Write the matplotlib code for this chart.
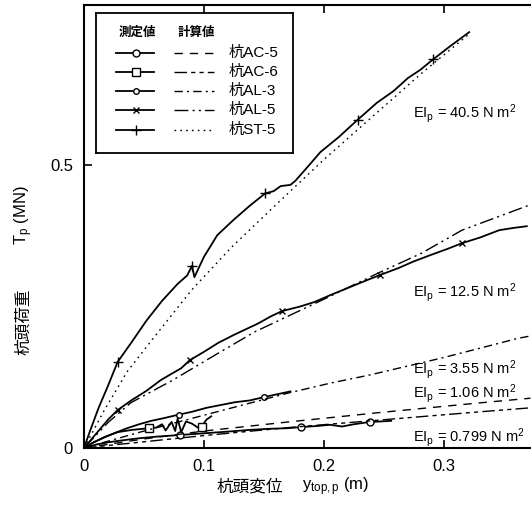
import matplotlib
matplotlib.use("Agg")
import matplotlib.pyplot as plt
from matplotlib.lines import Line2D

plt.rcParams["font.family"] = ["Liberation Sans", "Noto Sans CJK JP"]
plt.rcParams["mathtext.fontset"] = "custom"
plt.rcParams["mathtext.rm"] = "Liberation Sans"
plt.rcParams["mathtext.it"] = "Liberation Sans:italic"

# measured (solid with markers)
ST5_X = [0, 0.005, 0.012, 0.02, 0.028, 0.04, 0.052, 0.065, 0.078, 0.086, 0.09, 0.092, 0.1, 0.111, 0.124, 0.138,
         0.151, 0.158, 0.164, 0.172, 0.176, 0.186, 0.197, 0.212, 0.228, 0.244, 0.258, 0.27, 0.28, 0.291, 0.305, 0.321]
ST5_Y = [0, 0.03, 0.07, 0.11, 0.152, 0.188, 0.225, 0.26, 0.29, 0.305, 0.322, 0.302, 0.338, 0.376, 0.402, 0.428,
         0.45, 0.454, 0.463, 0.465, 0.472, 0.496, 0.523, 0.549, 0.58, 0.61, 0.631, 0.654, 0.668, 0.687, 0.71, 0.735]
AL5_X = [0, 0.01, 0.02, 0.028, 0.04, 0.052, 0.064, 0.072, 0.081, 0.088, 0.1, 0.112, 0.125, 0.135, 0.145, 0.156,
         0.165, 0.18, 0.192, 0.205, 0.22, 0.235, 0.247, 0.262, 0.275, 0.29, 0.303, 0.315, 0.33, 0.346, 0.358, 0.369]
AL5_Y = [0, 0.025, 0.05, 0.067, 0.085, 0.101, 0.12, 0.13, 0.141, 0.155, 0.17, 0.186, 0.2, 0.21, 0.22, 0.233,
         0.242, 0.25, 0.258, 0.27, 0.283, 0.296, 0.306, 0.318, 0.33, 0.342, 0.352, 0.362, 0.372, 0.385, 0.389, 0.392]
AL3_X = [0, 0.008, 0.016, 0.025, 0.036, 0.046, 0.056, 0.067, 0.079, 0.09, 0.102, 0.114, 0.126, 0.138, 0.15, 0.161, 0.172]
AL3_Y = [0, 0.01, 0.018, 0.026, 0.035, 0.042, 0.048, 0.053, 0.059, 0.064, 0.071, 0.076, 0.081, 0.084, 0.09, 0.095, 0.1]
AC6_X = [0, 0.008, 0.018, 0.028, 0.04, 0.054, 0.06, 0.065, 0.068, 0.073, 0.076, 0.078, 0.081, 0.085, 0.09, 0.095,
         0.098, 0.102, 0.106]
AC6_Y = [0, 0.01, 0.02, 0.028, 0.032, 0.035, 0.036, 0.042, 0.031, 0.046, 0.03, 0.052, 0.028, 0.047, 0.043, 0.036,
         0.038, 0.05, 0.056]
AC5_X = [0, 0.01, 0.02, 0.03, 0.045, 0.06, 0.08, 0.1, 0.12, 0.138, 0.155, 0.17, 0.181, 0.195, 0.205, 0.215, 0.225,
         0.238, 0.248, 0.256]
AC5_Y = [0, 0.006, 0.01, 0.013, 0.017, 0.02, 0.023, 0.026, 0.029, 0.032, 0.034, 0.035, 0.037, 0.039, 0.041, 0.038,
         0.042, 0.046, 0.047, 0.048]

# computed
ST5C_X = [0, 0.017, 0.036, 0.06, 0.09, 0.123, 0.16, 0.2, 0.24, 0.28, 0.32]
ST5C_Y = [0, 0.067, 0.135, 0.2, 0.28, 0.355, 0.43, 0.51, 0.585, 0.66, 0.73]
AL5C_X = [0, 0.02, 0.039, 0.074, 0.109, 0.142, 0.2, 0.245, 0.281, 0.315, 0.372]
AL5C_Y = [0, 0.045, 0.08, 0.12, 0.164, 0.205, 0.263, 0.309, 0.344, 0.385, 0.43]
AL3C_X = [0, 0.05, 0.1, 0.17, 0.206, 0.238, 0.3, 0.362, 0.372]
AL3C_Y = [0, 0.03, 0.058, 0.097, 0.115, 0.129, 0.16, 0.194, 0.198]
AC5C_X = [0, 0.05, 0.1, 0.17, 0.248, 0.331, 0.372]
AC5C_Y = [0, 0.016, 0.03, 0.046, 0.063, 0.08, 0.088]
AC6C_X = [0, 0.1, 0.17, 0.25, 0.33, 0.372]
AC6C_Y = [0, 0.022, 0.036, 0.05, 0.064, 0.071]

EI_LABELS = ["40.5", "12.5", "3.55", "1.06", "0.799"]
EI_Y = [0.592, 0.274, 0.138, 0.097, 0.019]
PILES = ["杭AC-5", "杭AC-6", "杭AL-3", "杭AL-5", "杭ST-5"]

# styles per pile (legend order)
MARKERS = ["o", "s", "o", "x", "+"]
MSIZES = [5, 6, 4, 5, 7]
DASHES = [(6, 5), (9, 3, 3, 3, 3, 3), (6, 3, 1.5, 3), (10, 3, 1.5, 3, 1.5, 3), (1.2, 3)]

fig = plt.figure(figsize=(5.31, 5.11), dpi=100)
ax = fig.add_axes([84 / 531, 1 - 448 / 511, 447 / 531, 443 / 511])

meas = [(AC5_X, AC5_Y, [6, 12, 17]), (AC6_X, AC6_Y, [5, 16]), (AL3_X, AL3_Y, [8, 14]),
        (AL5_X, AL5_Y, [3, 9, 16, 22, 27]), (ST5_X, ST5_Y, [4, 10, 16, 24, 29])]
calc = [(AC5C_X, AC5C_Y), (AC6C_X, AC6C_Y), (AL3C_X, AL3C_Y), (AL5C_X, AL5C_Y), (ST5C_X, ST5C_Y)]

for i, (x, y, mk) in enumerate(meas):
    ax.plot(x, y, color="black", lw=1.3, marker=MARKERS[i], markevery=mk, ms=MSIZES[i],
            mfc="white", mec="black", mew=1.0)
for i, (x, y) in enumerate(calc):
    ax.plot(x, y, color="black", lw=1.0, dashes=DASHES[i])

for lab, yy in zip(EI_LABELS, EI_Y):
    ax.text(0.2745, yy, "EI$_\\mathrm{p}$ = " + lab + " N m$^2$", fontsize=10.5, va="center", ha="left")

ax.set_xlim(0, 0.3725)
ax.set_ylim(0, 0.783)
ax.set_xticks([0, 0.1, 0.2, 0.3])
ax.set_xticklabels(["0", "0.1", "0.2", "0.3"])
ax.set_yticks([0, 0.5])
ax.set_yticklabels(["0", "0.5"])
ax.tick_params(direction="in", length=6, width=1.2, labelsize=12, top=True, pad=8)
ax.spines["right"].set_visible(False)
for s in ["left", "bottom", "top"]:
    ax.spines[s].set_linewidth(1.5)

# axis titles: CJK part and symbol part drawn separately (mathtext has no CJK fallback)
fig.text(283 / 531, 1 - 487 / 511, "杭頭変位", fontsize=12, ha="right", va="center")
fig.text(302 / 531, 1 - 487 / 511, "$\\mathrm{y}_{\\mathrm{top,p}}$ (m)", fontsize=12, ha="left", va="center")
fig.text(24 / 531, 1 - 322 / 511, "杭頭荷重", fontsize=12, ha="center", va="center", rotation=90)
fig.text(24 / 531, 1 - 215 / 511, "$\\mathrm{T}_{\\mathrm{p}}$ (MN)", fontsize=12, ha="center", va="center",
         rotation=90)

# legend box
lg = fig.add_axes([96 / 531, 1 - 153 / 511, 197 / 531, 140 / 511])
lg.set_xlim(0, 197)
lg.set_ylim(140, 0)
lg.set_xticks([])
lg.set_yticks([])
for s in lg.spines.values():
    s.set_linewidth(1.3)
lg.text(41, 20, "測定値", fontsize=9, ha="center", va="center", fontweight="bold")
lg.text(100, 20, "計算値", fontsize=9, ha="center", va="center", fontweight="bold")
rows = [40, 59, 78, 97, 117]
for i, ry in enumerate(rows):
    lg.add_line(Line2D([20, 58], [ry, ry], color="black", lw=1.3))
    lg.add_line(Line2D([40], [ry], marker=MARKERS[i], ms=MSIZES[i], mfc="white", mec="black", mew=1.0, lw=0))
    lg.add_line(Line2D([78, 118], [ry, ry], color="black", lw=1.0, dashes=DASHES[i]))
    lg.text(133, ry, PILES[i], fontsize=11, va="center", ha="left")

fig.savefig("out.png", dpi=100)
